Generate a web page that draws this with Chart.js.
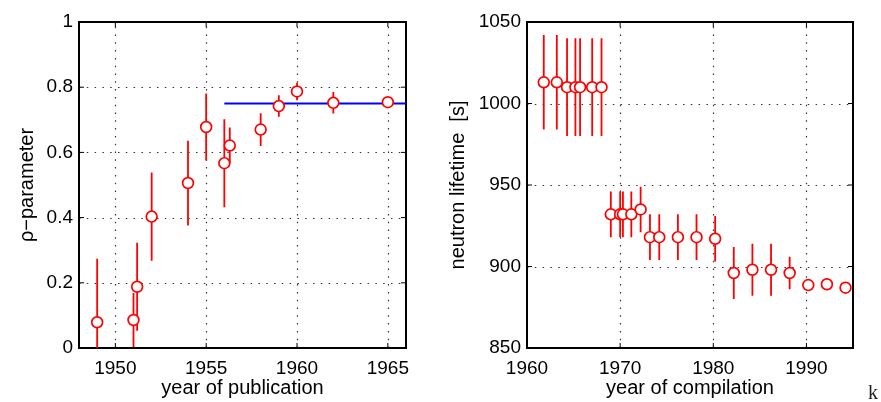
<!DOCTYPE html>
<html lang="en">
<head>
<meta charset="UTF-8">
<title>rho parameter and neutron lifetime history</title>
<script src="https://cdn.jsdelivr.net/npm/chart.js"></script>
<style>
  * { margin: 0; padding: 0; box-sizing: border-box; }
  body { width: 881px; height: 402px; background: #fff; position: relative; overflow: hidden; }
  .panel { position: absolute; top: 0; }
  #left { left: 0; }
  #right { left: 440px; }
  .stray { position: absolute; left: 868px; top: 382px; font: 20px 'Liberation Serif', serif; line-height: 1; color: #222; }
</style>
</head>
<body>
<div class="panel" id="left"><canvas id="rhoChart" width="440" height="402"></canvas></div>
<div class="panel" id="right"><canvas id="tauChart" width="441" height="402"></canvas></div>
<div class="stray">k</div>
<script>
// left panel: rho parameter vs year of publication
const pubYears  = [1949, 1951, 1951.2, 1952, 1954, 1955, 1956, 1956.3, 1958, 1959, 1960, 1962, 1965];
const rhoValues = [0.079, 0.086, 0.188, 0.403, 0.506, 0.678, 0.567, 0.621, 0.670, 0.742, 0.787, 0.752, 0.754];
const rhoErrors = [0.195, 0.083, 0.135, 0.135, 0.13, 0.103, 0.135, 0.055, 0.05, 0.033, 0.027, 0.033, 0.008];
const fitYears  = [1956, 1966];
const fitValues = [0.75, 0.75];
const pubTicks  = [1950, 1955, 1960, 1965];
const rhoTicks  = [0, 0.2, 0.4, 0.6, 0.8, 1];

// right panel: neutron lifetime vs year of compilation
const compYears = [1961.8, 1963.2, 1964.3, 1965.2, 1965.7, 1967, 1968, 1969, 1970, 1970.3, 1971.2, 1972.2,
                   1973.2, 1974.2, 1976.2, 1978.2, 1980.2, 1982.2, 1984.2, 1986.2, 1988.2, 1990.2, 1992.2, 1994.2];
const lifetimes = [1013, 1013, 1010, 1010, 1010, 1010, 1010, 932, 932, 932, 932, 935,
                   918, 918, 918, 918, 917, 896, 898, 898, 896, 888.6, 889.1, 887];
const lifetimeErrors = [29, 29, 30, 30, 30, 30, 30, 14, 14, 14, 14, 14,
                        14, 14, 14, 14, 14, 16, 16, 16, 10, 3, 2, 2];
const compTicks = [1960, 1970, 1980, 1990];
const tauTicks  = [850, 900, 950, 1000, 1050];

const RED = '#ff0000';
const tickFont = { family: "'Liberation Sans', Arial, sans-serif", size: 19 };
const titleFont = { family: "'Liberation Sans', Arial, sans-serif", size: 20 };

// dotted grid, box, inner tick marks and error bars (matlab look)
const matlabBox = {
  id: 'matlabBox',
  beforeDatasetsDraw(chart) {
    const { ctx, chartArea: a, scales: { x, y } } = chart;
    ctx.save();

    // dotted grid
    ctx.strokeStyle = '#333';
    ctx.lineWidth = 1.2;
    ctx.setLineDash([1.5, 6.3]);
    ctx.beginPath();
    x.ticks.forEach(t => {
      const px = Math.round(x.getPixelForValue(t.value)) + 0.5;
      if (px <= a.left + 2 || px >= a.right - 2) return;
      ctx.moveTo(px, a.bottom); ctx.lineTo(px, a.top);
    });
    y.ticks.forEach(t => {
      const py = Math.round(y.getPixelForValue(t.value)) + 0.5;
      if (py <= a.top + 2 || py >= a.bottom - 2) return;
      ctx.moveTo(a.left, py); ctx.lineTo(a.right, py);
    });
    ctx.stroke();
    ctx.setLineDash([]);

    ctx.strokeStyle = '#000';
    ctx.lineWidth = 1;
    ctx.beginPath();
    x.ticks.forEach(t => {
      const px = x.getPixelForValue(t.value);
      ctx.moveTo(px, a.bottom); ctx.lineTo(px, a.bottom - 5);
      ctx.moveTo(px, a.top); ctx.lineTo(px, a.top + 5);
    });
    y.ticks.forEach(t => {
      const py = y.getPixelForValue(t.value);
      ctx.moveTo(a.left, py); ctx.lineTo(a.left + 5, py);
      ctx.moveTo(a.right, py); ctx.lineTo(a.right - 5, py);
    });
    ctx.stroke();
    ctx.lineWidth = 2;
    ctx.strokeRect(a.left, a.top, a.right - a.left, a.bottom - a.top);

    // error bars, clipped to the plot box
    ctx.beginPath();
    ctx.rect(a.left, a.top, a.right - a.left, a.bottom - a.top);
    ctx.clip();
    chart.data.datasets.forEach(ds => {
      if (!ds.errors) return;
      ctx.strokeStyle = ds.borderColor;
      ctx.lineWidth = 1.8;
      ctx.beginPath();
      ds.data.forEach((p, i) => {
        const px = x.getPixelForValue(p.x);
        ctx.moveTo(px, y.getPixelForValue(p.y - ds.errors[i]));
        ctx.lineTo(px, y.getPixelForValue(p.y + ds.errors[i]));
      });
      ctx.stroke();
    });
    ctx.restore();
  }
};

function makeScales(xMin, xMax, xTicks, xTitle, yMin, yMax, yTicks, yTitle, yWidth, yTitlePad) {
  // grid is drawn by the plugin; keep chart.js grid only for its layout spacing
  const hiddenGrid = { color: 'rgba(0,0,0,0)', drawTicks: false };
  return {
    x: {
      type: 'linear', min: xMin, max: xMax,
      afterBuildTicks: s => { s.ticks = xTicks.map(v => ({ value: v })); },
      afterFit: s => { s.height = 54; },
      grid: hiddenGrid,
      border: { display: false },
      ticks: { color: '#000', font: tickFont, padding: 9, maxRotation: 0, callback: v => String(v) },
      title: { display: true, text: xTitle, color: '#000', font: titleFont, padding: { top: 0, bottom: 2 } }
    },
    y: {
      type: 'linear', min: yMin, max: yMax,
      afterBuildTicks: s => { s.ticks = yTicks.map(v => ({ value: v })); },
      afterFit: s => { s.width = yWidth; },
      grid: hiddenGrid,
      border: { display: false },
      ticks: { color: '#000', font: tickFont, padding: 6, callback: v => String(v) },
      title: { display: true, text: yTitle, color: '#000', font: titleFont, padding: { top: yTitlePad, bottom: 0 } }
    }
  };
}

function pointSet(xs, ys, errs) {
  return {
    type: 'scatter',
    data: xs.map((v, i) => ({ x: v, y: ys[i] })),
    errors: errs,
    showLine: false,
    borderColor: RED,
    backgroundColor: '#fff',
    pointRadius: 5.4,
    pointBorderWidth: 1.7,
    pointHoverRadius: 5.4,
    clip: false
  };
}

const common = {
  responsive: false,
  animation: false,
  events: [],
  plugins: { legend: { display: false }, tooltip: { enabled: false } }
};

new Chart(document.getElementById('rhoChart'), {
  type: 'scatter',
  data: {
    datasets: [
      pointSet(pubYears, rhoValues, rhoErrors),
      {
        type: 'line',
        data: fitYears.map((v, i) => ({ x: v, y: fitValues[i] })),
        borderColor: '#0000ff',
        borderWidth: 1.8,
        pointRadius: 0,
        fill: false
      }
    ]
  },
  options: Object.assign({}, common, {
    layout: { padding: { left: 0, right: 34, top: 22, bottom: 0 } },
    scales: makeScales(1948, 1966, pubTicks, 'year of publication', 0, 1, rhoTicks, 'ρ−parameter', 79, 15)
  }),
  plugins: [matlabBox]
});

new Chart(document.getElementById('tauChart'), {
  type: 'scatter',
  data: { datasets: [pointSet(compYears, lifetimes, lifetimeErrors)] },
  options: Object.assign({}, common, {
    layout: { padding: { left: 0, right: 28, top: 22, bottom: 0 } },
    scales: makeScales(1960, 1995, compTicks, 'year of compilation', 850, 1050, tauTicks, 'neutron lifetime  [s]', 87, 6)
  }),
  plugins: [matlabBox]
});
</script>
</body>
</html>
